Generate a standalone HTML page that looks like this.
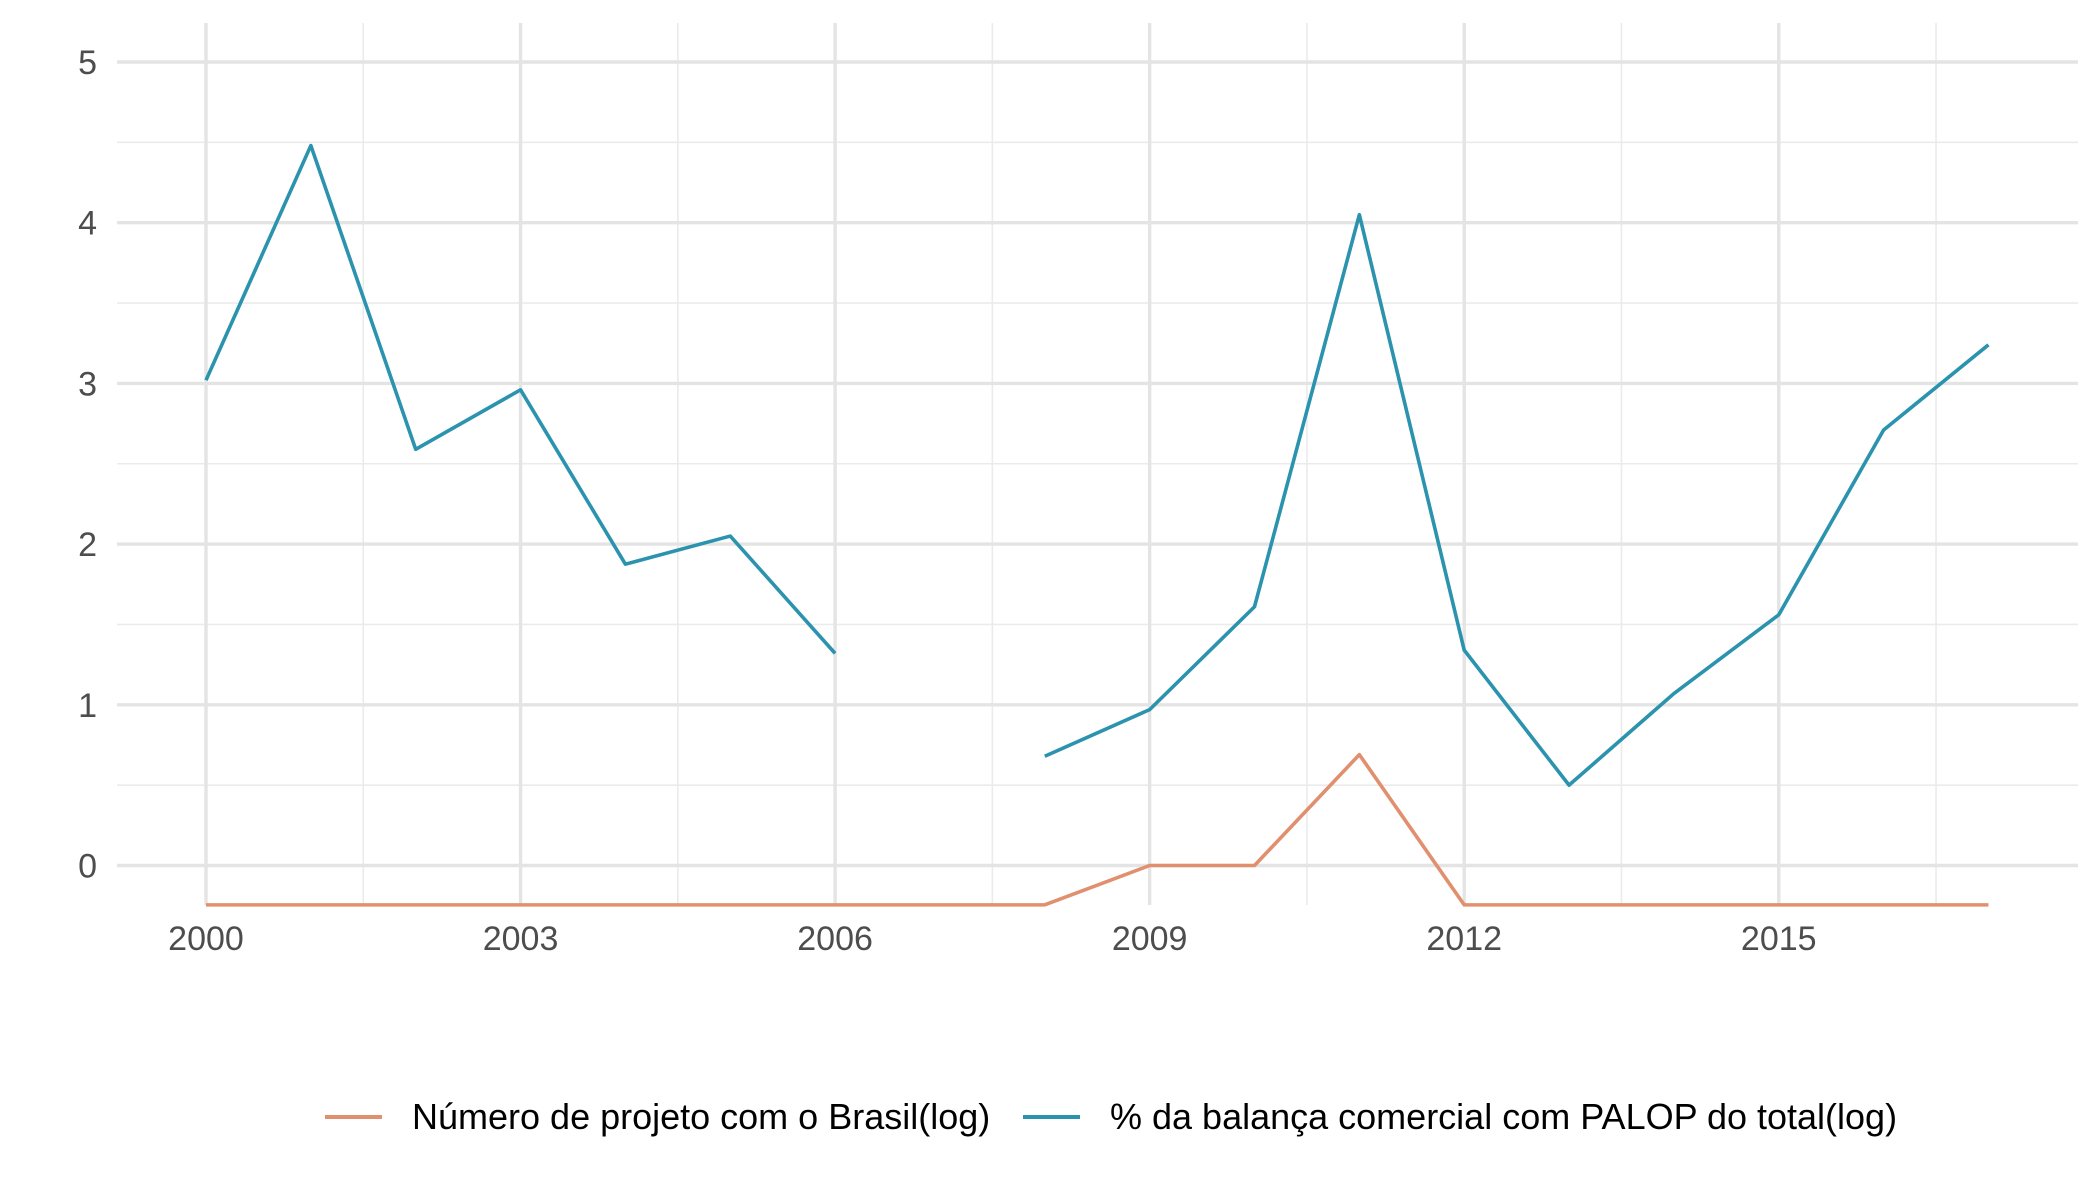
<!DOCTYPE html>
<html><head><meta charset="utf-8"><style>
html,body{margin:0;padding:0;background:#fff;}
svg{display:block;font-family:"Liberation Sans",sans-serif;}
</style></head><body>
<svg id="chart" width="2100" height="1200" viewBox="0 0 2100 1200">
<g id="grid"></g>
<g id="series"></g>
<g id="axes"></g>
<g id="legend"></g>
</svg>
<script>
const years = [2000,2001,2002,2003,2004,2005,2006,2007,2008,2009,2010,2011,2012,2013,2014,2015,2016,2017];
const projetos = [-0.245,-0.245,-0.245,-0.245,-0.245,-0.245,-0.245,-0.245,-0.245,0,0,0.69,-0.245,-0.245,-0.245,-0.245,-0.245,-0.245];
const balanca = [3.02,4.48,2.59,2.96,1.875,2.05,1.32,null,0.68,0.97,1.61,4.05,1.34,0.5,1.07,1.56,2.71,3.24];
const xTicks = [2000,2003,2006,2009,2012,2015];
const yTicks = [0,1,2,3,4,5];
const seriesNames = ["Número de projeto com o Brasil(log)","% da balança comercial com PALOP do total(log)"];
const seriesColors = ["#E0906F","#2B93AE"];

const NS="http://www.w3.org/2000/svg";
const PL=117,PR=2078,PT=23,PB=905;
function xs(v){return 206+(v-2000)*104.85;}
function ys(v){return 865.5-v*160.7;}
function mk(tag,attrs,parent){const e=document.createElementNS(NS,tag);for(const k in attrs)e.setAttribute(k,attrs[k]);parent.appendChild(e);return e;}
const grid=document.getElementById('grid'),series=document.getElementById('series'),axes=document.getElementById('axes'),legend=document.getElementById('legend');

for(let i=0;i<yTicks.length;i++){
  const v=yTicks[i]+0.5; if(ys(v)<PT) continue;
  const l=mk('line',{x1:PL,x2:PR,y1:ys(v),y2:ys(v),stroke:'#ebebeb','stroke-width':1.6},grid);
  
  
}
for(let i=0;i<xTicks.length;i++){
  const v=xTicks[i]+1.5;
  const l=mk('line',{x1:xs(v),x2:xs(v),y1:PT,y2:PB,stroke:'#ebebeb','stroke-width':1.6},grid);
  
  
}
yTicks.forEach(v=>{
  const l=mk('line',{x1:PL,x2:PR,y1:ys(v),y2:ys(v),stroke:'#e4e4e4','stroke-width':3.4},grid);
  
  
  const t=mk('text',{x:97,y:ys(v)+12,'text-anchor':'end','font-size':34,fill:'#4d4d4d'},axes);
  t.textContent=v;
  
  
});
xTicks.forEach(v=>{
  const l=mk('line',{x1:xs(v),x2:xs(v),y1:PT,y2:PB,stroke:'#e4e4e4','stroke-width':3.4},grid);
  
  
  const t=mk('text',{x:xs(v),y:950,'text-anchor':'middle','font-size':34,fill:'#4d4d4d'},axes);
  t.textContent=v;
  
  
});

function drawLine(vals,color,name){
  let segs=[],cur=[];
  vals.forEach((v,i)=>{ if(v===null){ if(cur.length) segs.push(cur); cur=[]; } else cur.push(xs(years[i])+','+ys(v)); });
  if(cur.length) segs.push(cur);
  segs.forEach(s=>{
    const p=mk('polyline',{points:s.join(' '),fill:'none',stroke:color,'stroke-width':3.6,'stroke-linejoin':'round'},series);
    
    
  });
}
drawLine(projetos,seriesColors[0],'line-projetos');
drawLine(balanca,seriesColors[1],'line-balanca');

const lx=[325,1023];
seriesNames.forEach((n,i)=>{
  const k=mk('line',{x1:lx[i],x2:lx[i]+57,y1:1117,y2:1117,stroke:seriesColors[i],'stroke-width':4},legend);
  
  
  const t=mk('text',{x:lx[i]+87,y:1129,'font-size':36,fill:'#000'},legend);
  t.textContent=n;
  
  
});
</script>
</body></html>
